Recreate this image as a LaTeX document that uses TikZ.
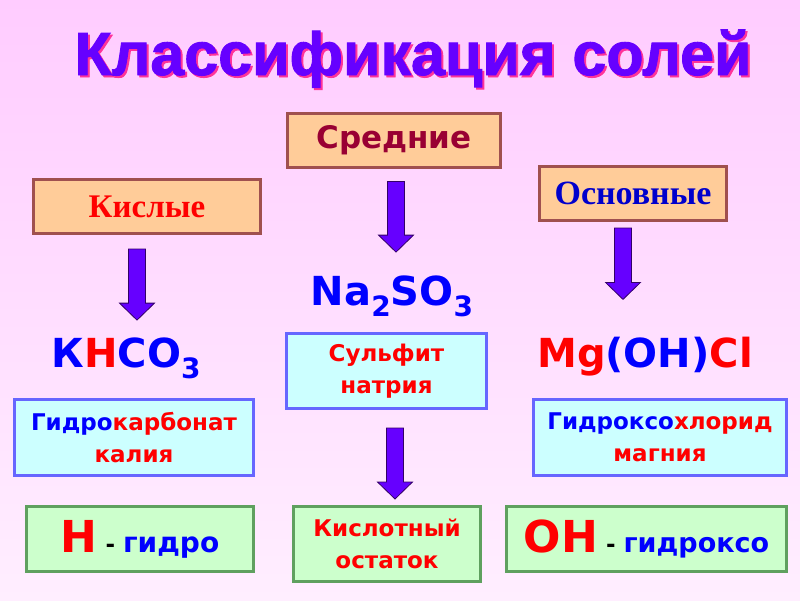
\documentclass[tikz,border=0pt]{standalone}
\usepackage{fontspec}
\setmainfont{DejaVu Sans}
\newfontfamily\titlefont{Liberation Sans}[BoldFeatures={FakeBold=1.5}]
\newfontfamily\romanfont{Liberation Serif}
\usetikzlibrary{calc}

\definecolor{bgtop}{HTML}{FFCCFF}
\definecolor{bgbottom}{HTML}{FFEEFF}
\definecolor{titlecol}{HTML}{6600FF}
\definecolor{titleshade}{HTML}{FF3399}
\definecolor{typefill}{HTML}{FFCC99}
\definecolor{typeline}{HTML}{A0504F}
\definecolor{namefill}{HTML}{CCFFFF}
\definecolor{nameline}{HTML}{6666FF}
\definecolor{notefill}{HTML}{CCFFCC}
\definecolor{noteline}{HTML}{5FA05F}
\definecolor{arrowfill}{HTML}{6600FF}
\definecolor{arrowline}{HTML}{330066}
\definecolor{darkred}{HTML}{990033}
\definecolor{chemblue}{HTML}{0000FF}
\definecolor{chemred}{HTML}{FF0000}

\newcommand{\idx}[1]{\raisebox{-0.28em}{\fontsize{28}{28}\selectfont #1}}

\tikzset{
    typebox/.style={draw=typeline, fill=typefill, line width=3pt, minimum height=54pt},
    namebox/.style={draw=nameline, fill=namefill, line width=3pt, align=center,
        font=\bfseries\fontsize{23}{32}\selectfont},
    notebox/.style={draw=noteline, fill=notefill, line width=3pt, align=center,
        font=\bfseries\fontsize{23}{32}\selectfont},
    formula/.style={font=\bfseries\fontsize{40}{40}\selectfont, inner sep=0pt, anchor=base},
    titletext/.style={anchor=base, font=\titlefont\bfseries\fontsize{61}{61}\selectfont},
    bigarrow/.style={fill=arrowfill, draw=arrowline, line width=0.8pt,
        to path={let \p1=(\tikztostart), \p2=(\tikztotarget) in
            (\x1-8.5pt,\y1) -- (\x1+8.5pt,\y1) -- (\x1+8.5pt,\y2+17pt)
            -- (\x1+17.5pt,\y2+17pt) -- (\x1,\y2) -- (\x1-17.5pt,\y2+17pt)
            -- (\x1-8.5pt,\y2+17pt) -- cycle}}
}

\begin{document}
\begin{tikzpicture}[x=1pt, y=-1pt]
    \useasboundingbox (0, 0) rectangle (800, 600);
    \shade[top color=bgtop, bottom color=bgbottom] (0, 0) rectangle (800, 600);

    % title with its shadow
    \node (titleshadow) at (415, 77) [titletext, text=titleshade] {Классификация солей};
    \node (title) at (413, 75) [titletext, text=titlecol] {Классификация солей};

    % kinds of salts
    \node (sred) at (394, 140) [typebox, minimum width=213pt, text=darkred,
        font=\bfseries\fontsize{31}{31}\selectfont] {Средние};
    \node (kisl) at (147, 206.5) [typebox, minimum width=227pt, text=chemred,
        font=\romanfont\bfseries\fontsize{33}{33}\selectfont] {Кислые};
    \node (osn) at (633, 193.5) [typebox, minimum width=187pt, text=chemblue!80!black,
        font=\romanfont\bfseries\fontsize{34}{34}\selectfont] {Основные};

    % formulas
    \node (khco) at (126, 367) [formula] {\textcolor{chemblue}{К}\textcolor{chemred}{Н}\textcolor{chemblue}{СО\idx{3}}};
    \node (naso) at (392, 305) [formula, text=chemblue] {Na\idx{2}SO\idx{3}};
    \node (mgoh) at (645, 367) [formula] {\textcolor{chemred}{Mg}\textcolor{chemblue}{(OH)}\textcolor{chemred}{Cl}};

    % names
    \node (sulf) at (386.5, 371) [namebox, minimum width=200pt, minimum height=75pt, text=chemred] {Сульфит\\натрия};
    \node (hydcarb) at (134, 437.5) [namebox, minimum width=239pt, minimum height=76pt, text=chemred]
        {\textcolor{chemblue}{Гидро}карбонат\\калия};
    \node (hydchl) at (660, 437.5) [namebox, minimum width=253pt, minimum height=76pt, text=chemred]
        {\textcolor{chemblue}{Гидроксо}хлорид\\магния};

    % notes
    \node (hnote) at (140, 539) [notebox, minimum width=227pt, minimum height=65pt]
        {{\fontsize{44}{44}\selectfont\textcolor{chemred}{Н}} - \textcolor{chemblue}{\fontsize{28}{28}\selectfont гидро}};
    \node (ostat) at (387, 544) [notebox, minimum width=187pt, minimum height=75pt, text=chemred] {Кислотный\\остаток};
    \node (ohnote) at (646.5, 539) [notebox, minimum width=280pt, minimum height=65pt]
        {{\fontsize{44}{44}\selectfont\textcolor{chemred}{ОН}} - \textcolor{chemblue}{\fontsize{27}{27}\selectfont гидроксо}};

    % arrows
    \draw[bigarrow] ([xshift=-10pt, yshift=-14pt]kisl.south) to ([yshift=17pt]khco.north);
    \draw[bigarrow] ([xshift=2pt, yshift=-13pt]sred.south) to ([yshift=23pt]naso.north);
    \draw[bigarrow] ([xshift=-10pt, yshift=-6pt]osn.south) to ([yshift=37pt]mgoh.north);
    \draw[bigarrow] ([xshift=8.5pt, yshift=-18pt]sulf.south) to ([yshift=6pt]ostat.north);
\end{tikzpicture}
\end{document}
